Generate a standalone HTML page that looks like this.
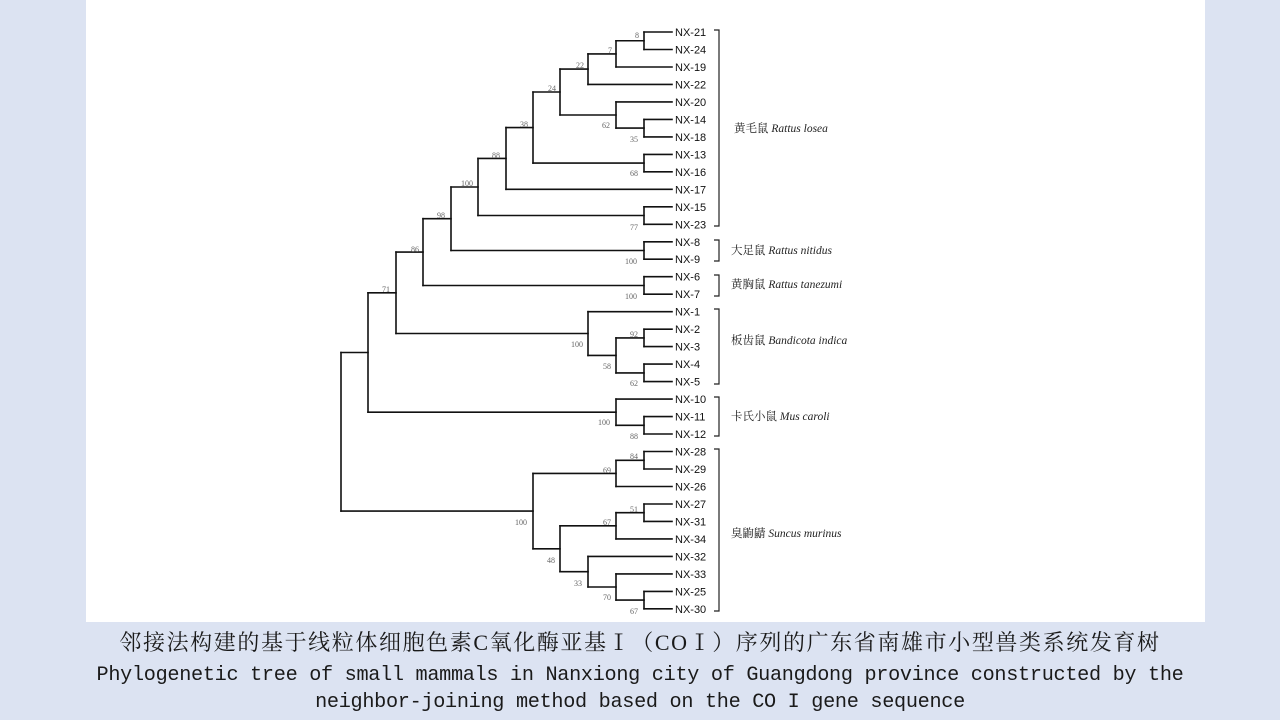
<!DOCTYPE html>
<html><head><meta charset="utf-8"><style>
html,body{margin:0;padding:0;width:1280px;height:720px;background:#dce3f2;overflow:hidden}
.cap{position:absolute;left:0;width:1280px;text-align:center;color:#1a1a1a;white-space:nowrap}
</style></head><body>
<svg width="1280" height="720" style="position:absolute;left:0;top:0">
<rect x="86" y="0" width="1119" height="622" fill="#fff"/>
<g stroke="#111" stroke-width="1.6" fill="none" stroke-linecap="square">
<path d="M644 32H672M644 49.5H672M616 67H672M588 84.4H672M616 101.9H672M644 119.4H672M644 136.9H672M644 154.4H672M644 171.8H672M506 189.3H672M644 206.8H672M644 224.3H672M644 241.8H672M644 259.2H672M644 276.7H672M644 294.2H672M588 311.7H672M644 329.2H672M644 346.6H672M644 364.1H672M644 381.6H672M616 399.1H672M644 416.6H672M644 434H672M644 451.5H672M644 469H672M616 486.5H672M644 504H672M644 521.4H672M616 538.9H672M588 556.4H672M616 573.9H672M644 591.4H672M644 608.8H672"/>
<path d="M644 32V49.5M616 40.75V67M588 53.9V84.4M644 119.4V136.9M616 101.9V128.1M560 69.1V115M644 154.4V171.8M533 92V163.1M506 127.6V189.3M644 206.8V224.3M478 158.4V215.5M644 241.8V259.2M451 187V250.5M644 276.7V294.2M423 218.7V285.5M644 329.2V346.6M644 364.1V381.6M616 337.9V372.9M588 311.7V355.4M396 252.1V333.5M644 416.6V434M616 399.1V425.3M368 292.8V412.2M341 352.5V511.1M644 451.5V469M616 460.3V486.5M644 504V521.4M616 512.7V538.9M644 591.4V608.8M616 573.9V600.1M588 556.4V587M560 525.8V571.7M533 473.4V548.8"/>
<path d="M616 40.75H644M588 53.9H616M560 69.1H588M616 128.1H644M560 115H616M533 92H560M533 163.1H644M506 127.6H533M478 158.4H506M478 215.5H644M451 187H478M451 250.5H644M423 218.7H451M423 285.5H644M616 337.9H644M616 372.9H644M588 355.4H616M396 333.5H588M396 252.1H423M368 292.8H396M368 412.2H396M616 425.3H644M396 412.2H616M341 352.5H368M616 460.3H644M533 473.4H616M616 512.7H644M560 525.8H616M616 600.1H644M588 587H616M560 571.7H588M533 548.8H560M341 511.1H533"/>
</g>
<g font-family="Liberation Sans, sans-serif" font-size="11" fill="#111">
<text x="675" y="36">NX-21</text><text x="675" y="53.5">NX-24</text><text x="675" y="71">NX-19</text><text x="675" y="88.4">NX-22</text><text x="675" y="105.9">NX-20</text><text x="675" y="123.4">NX-14</text><text x="675" y="140.9">NX-18</text><text x="675" y="158.4">NX-13</text><text x="675" y="175.8">NX-16</text><text x="675" y="193.3">NX-17</text><text x="675" y="210.8">NX-15</text><text x="675" y="228.3">NX-23</text><text x="675" y="245.8">NX-8</text><text x="675" y="263.2">NX-9</text><text x="675" y="280.7">NX-6</text><text x="675" y="298.2">NX-7</text><text x="675" y="315.7">NX-1</text><text x="675" y="333.2">NX-2</text><text x="675" y="350.6">NX-3</text><text x="675" y="368.1">NX-4</text><text x="675" y="385.6">NX-5</text><text x="675" y="403.1">NX-10</text><text x="675" y="420.6">NX-11</text><text x="675" y="438">NX-12</text><text x="675" y="455.5">NX-28</text><text x="675" y="473">NX-29</text><text x="675" y="490.5">NX-26</text><text x="675" y="508">NX-27</text><text x="675" y="525.4">NX-31</text><text x="675" y="542.9">NX-34</text><text x="675" y="560.4">NX-32</text><text x="675" y="577.9">NX-33</text><text x="675" y="595.4">NX-25</text><text x="675" y="612.8">NX-30</text>
</g>
<g font-family="Liberation Serif, serif" font-size="8" fill="#666" text-anchor="middle">
<text x="637" y="38">8</text><text x="610" y="53">7</text><text x="580" y="68">22</text><text x="552" y="91">24</text><text x="606" y="128">62</text><text x="634" y="142">35</text><text x="524" y="127">38</text><text x="634" y="176">68</text><text x="496" y="158">88</text><text x="467" y="186">100</text><text x="634" y="230">77</text><text x="441" y="218">98</text><text x="631" y="264">100</text><text x="415" y="252">86</text><text x="631" y="299">100</text><text x="386" y="292">71</text>
<text x="577" y="347">100</text><text x="634" y="337">92</text><text x="607" y="369">58</text><text x="634" y="386">62</text><text x="604" y="425">100</text><text x="634" y="439">88</text><text x="634" y="459">84</text><text x="607" y="473">69</text><text x="634" y="512">51</text><text x="607" y="525">67</text><text x="521" y="525">100</text><text x="551" y="563">48</text><text x="578" y="586">33</text><text x="607" y="600">70</text><text x="634" y="614">67</text>
</g>
<g stroke="#222" stroke-width="1.2" fill="none">
<path d="M714 30H719V226H714M714 240H719V261H714M714 275H719V296H714M714 309H719V384H714M714 397H719V436H714M714 449H719V611H714"/>
</g>
<g font-family="Liberation Serif, 'Noto Serif CJK SC', serif" font-size="11.5" fill="#222">
<text x="734" y="132">黄毛鼠 <tspan font-style="italic">Rattus losea</tspan></text>
<text x="731" y="254">大足鼠 <tspan font-style="italic">Rattus nitidus</tspan></text>
<text x="731" y="288">黄胸鼠 <tspan font-style="italic">Rattus tanezumi</tspan></text>
<text x="731" y="344">板齿鼠 <tspan font-style="italic">Bandicota indica</tspan></text>
<text x="731" y="420">卡氏小鼠 <tspan font-style="italic">Mus caroli</tspan></text>
<text x="731" y="537">臭鼩鼱 <tspan font-style="italic">Suncus murinus</tspan></text>
</g>
</svg>
<div class="cap" style="top:629px;font-family:'Liberation Serif','Noto Serif CJK SC',serif;font-size:22px;letter-spacing:1.6px;line-height:28px">邻接法构建的基于线粒体细胞色素C氧化酶亚基Ⅰ（COⅠ）序列的广东省南雄市小型兽类系统发育树</div>
<div class="cap" style="top:662px;font-family:'Liberation Mono',monospace;font-size:20.2px;letter-spacing:-0.3px;line-height:27px">Phylogenetic tree of small mammals in Nanxiong city of Guangdong province constructed by the<br>neighbor-joining method based on the CO I gene sequence</div>
</body></html>
